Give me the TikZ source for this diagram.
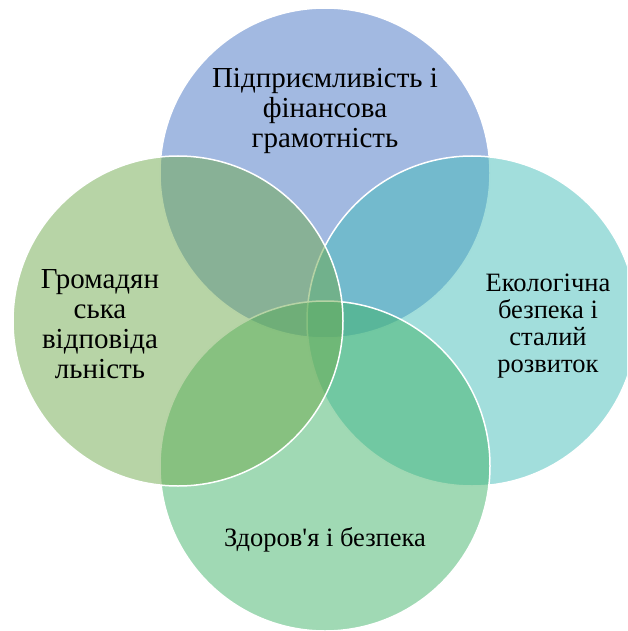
\documentclass[tikz,border=0pt]{standalone}
\usepackage{fontspec}
\setmainfont{Liberation Serif}
\definecolor{vennblue}{RGB}{69,115,195}
\definecolor{venngreen}{RGB}{111,169,77}
\definecolor{vennteal}{RGB}{69,189,185}
\definecolor{vennmint}{RGB}{65,179,105}
\begin{document}
\begin{tikzpicture}[x=1pt,y=-1pt,
  venn/.style={circle,minimum size=330pt,inner sep=0pt,draw=white,line width=1.5pt,fill opacity=.5},
  biglbl/.style={align=center,font=\fontsize{29pt}{30pt}\selectfont},
  smalllbl/.style={align=center,font=\fontsize{26.5pt}{27pt}\selectfont}]
\useasboundingbox (0,0) rectangle (627,631);
\clip (0,0) rectangle (627,631);
% circles, back to front
\node [venn,fill=vennblue] (enterprise) at (325,173) {};
\node [venn,fill=vennteal] (ecology) at (472,321) {};
\node [venn,fill=vennmint] (health) at (325,466) {};
\node [venn,fill=venngreen] (civic) at (178,321) {};
% labels
\node [biglbl] (enterprisetext) at (325,111) {Підприємливість і\\фінансова\\грамотність};
\node [biglbl] (civictext) at (100,324) {Громадян\\ська\\відповіда\\льність};
\node [smalllbl] (ecologytext) at (548,326) {Екологічна\\безпека і\\сталий\\розвиток};
\node [smalllbl] (healthtext) at (325,540) {Здоров\textquotesingle я і безпека};
\end{tikzpicture}
\end{document}
